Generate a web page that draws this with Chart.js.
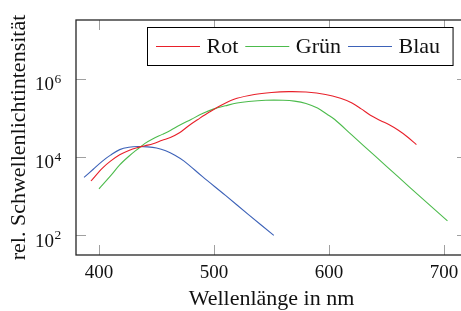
<!DOCTYPE html>
<html>
<head>
<meta charset="utf-8">
<script src="https://cdn.jsdelivr.net/npm/chart.js@4/dist/chart.umd.min.js"></script>
<style>
html,body{margin:0;padding:0;background:#fff;overflow:hidden;}
#wrap{width:461px;height:311px;overflow:hidden;position:relative;}
canvas{display:block;}
</style>
</head>
<body>
<div id="wrap"><canvas id="c" width="470" height="311"></canvas></div>
<script>
// ---- data (wavelength in nm, relative threshold light intensity) ----
const X_TICKS = [400, 500, 600, 700];
const Y_TICKS = [1e2, 1e4, 1e6];
const X_TITLE = 'Wellenlänge in nm';
const Y_TITLE = 'rel. Schwellenlichtintensität';
const SERIES_LABELS = ['Rot', 'Grün', 'Blau'];

const RED_X = [393, 403, 410, 418, 426, 433, 440, 447, 455, 462, 470, 478, 486, 496, 508, 520, 535, 550, 565, 580, 597, 610, 620, 628, 636, 645, 652, 660, 668, 676];
const RED_Y = [2450, 5250, 7900, 1.15e4, 1.48e4, 1.74e4, 1.95e4, 2.19e4, 2.69e4, 3.16e4, 4.17e4, 6.31e4, 9.12e4, 1.41e5, 2.24e5, 3.16e5, 3.98e5, 4.47e5, 4.68e5, 4.57e5, 3.98e5, 3.16e5, 2.40e5, 1.70e5, 1.17e5, 8.5e4, 6.76e4, 4.9e4, 3.31e4, 2.09e4];

const GREEN_X = [400, 410, 418, 426, 433, 440, 447, 455, 462, 470, 480, 490, 500, 510, 520, 530, 545, 560, 570, 580, 590, 598, 605, 620, 640, 660, 680, 703];
const GREEN_Y = [1550, 3310, 6310, 1.05e4, 1.55e4, 2.24e4, 2.95e4, 3.80e4, 4.79e4, 6.46e4, 9.12e4, 1.29e5, 1.70e5, 2.04e5, 2.40e5, 2.63e5, 2.82e5, 2.82e5, 2.69e5, 2.34e5, 1.78e5, 1.26e5, 9.12e4, 3.63e4, 1.07e4, 3160, 933, 234];

const BLUE_X = [387, 395, 403, 410, 418, 426, 434, 442, 450, 458, 466, 474, 490, 510, 530, 552];
const BLUE_Y = [3020, 4900, 7900, 1.12e4, 1.55e4, 1.78e4, 1.86e4, 1.82e4, 1.70e4, 1.45e4, 1.12e4, 7900, 3160, 1050, 339, 100];

const COLORS = ['#e8202a', '#4cbb4c', '#3d62b8'];
const SERIF = '"Liberation Serif", "DejaVu Serif", serif';

function pts(xs, ys) { return xs.map((x, i) => ({x: x, y: ys[i]})); }

const framePlugin = {
  id: 'frame',
  beforeDatasetsDraw(chart) {
    const {ctx, chartArea: a, scales} = chart;
    ctx.save();
    ctx.strokeStyle = '#a0a0a0';
    ctx.lineWidth = 1;
    const TL = 10;
    scales.x.ticks.forEach(t => {
      const px = Math.round(scales.x.getPixelForValue(t.value)) + 0.5;
      ctx.beginPath();
      ctx.moveTo(px, a.bottom); ctx.lineTo(px, a.bottom - TL);
      ctx.moveTo(px, a.top); ctx.lineTo(px, a.top + TL);
      ctx.stroke();
    });
    scales.y.ticks.forEach(t => {
      const py = Math.round(scales.y.getPixelForValue(t.value)) + 0.5;
      ctx.beginPath();
      ctx.moveTo(a.left, py); ctx.lineTo(a.left + TL, py);
      ctx.moveTo(a.right, py); ctx.lineTo(a.right - TL, py);
      ctx.stroke();
    });
    ctx.strokeStyle = '#262626';
    ctx.lineWidth = 1.3;
    ctx.strokeRect(a.left, a.top, a.right - a.left, a.bottom - a.top);
    // y tick labels with superscript exponents
    ctx.fillStyle = '#111';
    scales.y.ticks.forEach(t => {
      const py = scales.y.getPixelForValue(t.value);
      const e = Math.round(Math.log10(t.value));
      ctx.font = '19px ' + SERIF;
      ctx.textAlign = 'right';
      ctx.textBaseline = 'alphabetic';
      ctx.fillText('10', 54, py + 11.4);
      ctx.font = '13.5px ' + SERIF;
      ctx.textAlign = 'left';
      ctx.fillText(String(e), 54.5, py + 3.8);
    });
    ctx.restore();
  },
  afterDraw(chart) {
    const {ctx} = chart;
    ctx.save();
    ctx.font = '22px ' + SERIF;
    const ds = chart.data.datasets;
    const left = 147.5, top = 27.5, bottom = 65.5;
    let x = 156;
    const items = ds.map(d => {
      const it = {x0: x, x1: x + 44, tx: x + 50.5, label: d.label, color: d.borderColor};
      x = it.tx + ctx.measureText(d.label).width + 7;
      return it;
    });
    const right = x - 7 + 13;
    ctx.fillStyle = '#fff';
    ctx.fillRect(left, top, right - left, bottom - top);
    ctx.strokeStyle = '#000';
    ctx.lineWidth = 1;
    ctx.strokeRect(left, top, right - left, bottom - top);
    items.forEach(it => {
      ctx.strokeStyle = it.color;
      ctx.lineWidth = 1.1;
      ctx.beginPath();
      ctx.moveTo(it.x0, 46.5); ctx.lineTo(it.x1, 46.5);
      ctx.stroke();
      ctx.fillStyle = '#111';
      ctx.textBaseline = 'alphabetic';
      ctx.textAlign = 'left';
      ctx.fillText(it.label, it.tx, 52.5);
    });
    ctx.restore();
  }
};

const common = {fill: false, pointRadius: 0, borderWidth: 1.1, tension: 0.35};

new Chart(document.getElementById('c'), {
  type: 'line',
  data: {
    datasets: [
      Object.assign({label: SERIES_LABELS[0], data: pts(RED_X, RED_Y), borderColor: COLORS[0], backgroundColor: COLORS[0]}, common),
      Object.assign({label: SERIES_LABELS[1], data: pts(GREEN_X, GREEN_Y), borderColor: COLORS[1], backgroundColor: COLORS[1]}, common),
      Object.assign({label: SERIES_LABELS[2], data: pts(BLUE_X, BLUE_Y), borderColor: COLORS[2], backgroundColor: COLORS[2]}, common)
    ]
  },
  options: {
    responsive: false,
    animation: false,
    devicePixelRatio: 1,
    layout: {padding: {top: 20, right: 3, left: 0, bottom: 0}},
    plugins: {legend: {display: false}, tooltip: {enabled: false}},
    scales: {
      x: {
        type: 'linear',
        min: 380, max: 720,
        afterBuildTicks: s => { s.ticks = X_TICKS.map(v => ({value: v})); },
        afterFit: s => { s.height = 56; },
        grid: {display: false, drawTicks: false},
        border: {display: false},
        ticks: {color: '#111', font: {family: SERIF, size: 19}, padding: 7, maxRotation: 0,
                callback: v => String(v)},
        title: {display: true, text: X_TITLE, color: '#111',
                font: {family: SERIF, size: 22, lineHeight: 1}, padding: {top: 0, bottom: 1}}
      },
      y: {
        type: 'logarithmic',
        min: Math.pow(10, 1.5), max: Math.pow(10, 7.5),
        afterBuildTicks: s => { s.ticks = Y_TICKS.map(v => ({value: v})); },
        afterFit: s => { s.width = 76; },
        grid: {display: false, drawTicks: false},
        border: {display: false},
        ticks: {display: false},
        title: {display: true, text: Y_TITLE, color: '#111',
                font: {family: SERIF, size: 22, lineHeight: 1}, padding: {top: 8, bottom: 0}}
      }
    }
  },
  plugins: [framePlugin]
});
</script>
</body>
</html>
